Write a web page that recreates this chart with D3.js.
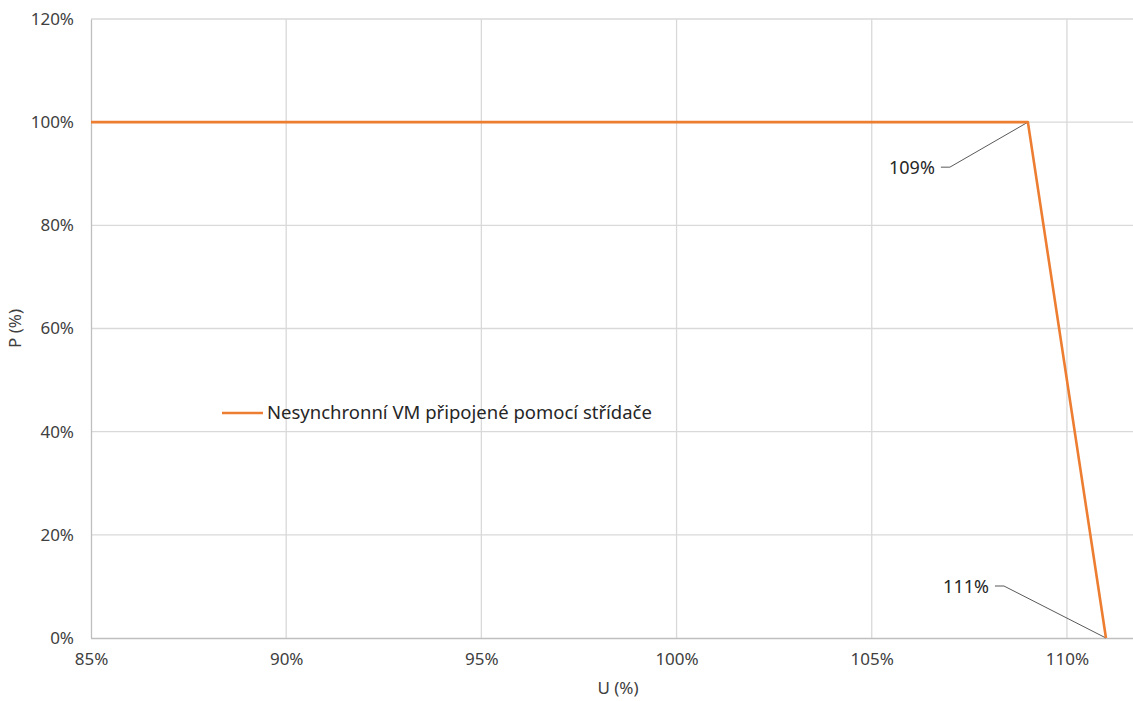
<!DOCTYPE html>
<html>
<head>
<meta charset="utf-8">
<script src="https://cdn.jsdelivr.net/npm/d3@7"></script>
<style>
  body { margin: 0; background: #fff; }
  svg { display: block; font-family: "Noto Sans", sans-serif; }
</style>
</head>
<body>
<div id="chart"></div>
<script>
// data: voltage U (%) vs. active power P (%)
const seriesName = "Nesynchronní VM připojené pomocí střídače";
const uValues = [85, 109, 111];
const pValues = [100, 100, 0];
const xTicks = [85, 90, 95, 100, 105, 110];
const yTicks = [0, 20, 40, 60, 80, 100, 120];
const labelIdx = [1, 2]; // points with data labels

const W = 1133, H = 701;
const margin = { top: 19, right: -12, bottom: 63, left: 91 },
    width = W - margin.left - margin.right,
    height = H - margin.top - margin.bottom;

const svg = d3.select("#chart")
    .append("svg")
    .attr("width", W)
    .attr("height", H);

const g = svg.append("g")
    .attr("transform", `translate(${margin.left}, ${margin.top})`);

const x = d3.scaleLinear().domain([85, 112]).range([0, width]);
const y = d3.scaleLinear().domain([0, 120]).range([height, 0]);

// gridlines
g.append("g")
    .selectAll("line.h")
    .data(yTicks.filter(d => d > 0))
    .enter().append("line")
    .attr("x1", 0).attr("x2", width)
    .attr("y1", d => y(d)).attr("y2", d => y(d))
    .attr("stroke", "#d9d9d9").attr("stroke-width", 1.3);

g.append("g")
    .selectAll("line.v")
    .data(xTicks.filter(d => d > 85))
    .enter().append("line")
    .attr("x1", d => x(d)).attr("x2", d => x(d))
    .attr("y1", 0).attr("y2", height)
    .attr("stroke", "#d9d9d9").attr("stroke-width", 1.3);

// axes
const xAxis = g.append("g")
    .attr("transform", `translate(0, ${height})`)
    .call(d3.axisBottom(x).tickValues(xTicks).tickSize(0).tickPadding(15).tickFormat(d => d + "%"));
const yAxis = g.append("g")
    .call(d3.axisLeft(y).tickValues(yTicks).tickSize(0).tickPadding(17).tickFormat(d => d + "%"));

[xAxis, yAxis].forEach(a => {
    a.select(".domain").attr("stroke", "#bfbfbf").attr("stroke-width", 1.3);
    a.selectAll("text")
        .attr("fill", "#404040")
        .style("font-size", "17px")
        .style("font-family", "'Noto Sans', sans-serif");
});
xAxis.select(".domain").attr("d", `M0,0.5H${width}`);

// axis titles
g.append("text")
    .attr("x", width / 2)
    .attr("y", height + 56)
    .attr("text-anchor", "middle")
    .attr("fill", "#404040")
    .style("font-size", "17px")
    .text("U (%)");

g.append("text")
    .attr("transform", `translate(${-margin.left + 15}, ${height / 2}) rotate(-90)`)
    .attr("text-anchor", "middle")
    .attr("dy", "0.35em")
    .attr("fill", "#404040")
    .style("font-size", "17px")
    .text("P (%)");

// series line
const pts = uValues.map((u, i) => ({ u: u, p: pValues[i] }));
const line = d3.line().x(d => x(d.u)).y(d => y(d.p));

// leader lines + data labels (offsets in px from the point)
const labelOffsets = [
    { dx: -78, dy: 45 },
    { dx: -102, dy: -52 }
];
labelIdx.forEach((idx, k) => {
    const d = pts[idx];
    const px = x(d.u), py = y(d.p);
    const o = labelOffsets[k];
    const lx = px + o.dx, ly = py + o.dy;
    g.append("path")
        .attr("d", `M${px},${py}L${lx},${ly}H${lx - 9}`)
        .attr("fill", "none")
        .attr("stroke", "#595959")
        .attr("stroke-width", 1);
    g.append("text")
        .attr("x", lx - 15)
        .attr("y", ly + 1)
        .attr("dy", "0.35em")
        .attr("text-anchor", "end")
        .attr("fill", "#262626")
        .style("font-size", "18px")
        .text(d.u + "%");
});

g.append("path")
    .datum(pts)
    .attr("d", line)
    .attr("fill", "none")
    .attr("stroke", "#ed7d31")
    .attr("stroke-width", 2.6)
    .attr("stroke-linejoin", "round");

// legend
const legend = g.append("g")
    .attr("transform", `translate(${222 - margin.left}, ${413 - margin.top})`);
legend.append("line")
    .attr("x1", 0).attr("x2", 41)
    .attr("stroke", "#ed7d31").attr("stroke-width", 2.6);
legend.append("text")
    .attr("x", 45)
    .attr("dy", "0.35em")
    .attr("fill", "#262626")
    .style("font-size", "18.5px")
    .text(seriesName);
</script>
</body>
</html>
